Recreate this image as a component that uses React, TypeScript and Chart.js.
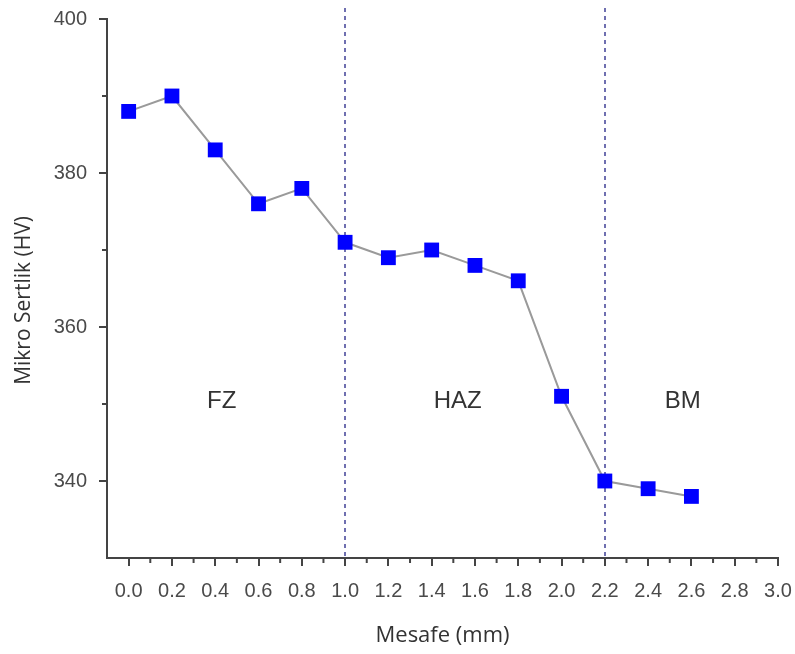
import { useEffect, useRef } from 'react';
import { Chart, registerables } from 'chart.js';
Chart.register(...registerables);

const distances = [0.0, 0.2, 0.4, 0.6, 0.8, 1.0, 1.2, 1.4, 1.6, 1.8, 2.0, 2.2, 2.4, 2.6];
const hardness = [388, 390, 383, 376, 378, 371, 369, 370, 368, 366, 351, 340, 339, 338];
const xTicks = [0.0, 0.2, 0.4, 0.6, 0.8, 1.0, 1.2, 1.4, 1.6, 1.8, 2.0, 2.2, 2.4, 2.6, 2.8, 3.0];
const xMinorTicks = [0.1, 0.3, 0.5, 0.7, 0.9, 1.1, 1.3, 1.5, 1.7, 1.9, 2.1, 2.3, 2.5, 2.7, 2.9];
const yTicks = [340, 360, 380, 400];
const yMinorTicks = [350, 370, 390];
const zoneBoundaries = [1.0, 2.2];
const zoneLabels = ['FZ', 'HAZ', 'BM'];
const zoneLabelX = [0.43, 1.52, 2.56];
const zoneLabelY = 350.3;
const xTitle = 'Mesafe (mm)';
const yTitle = 'Mikro Sertlik (HV)';

const FONT = "'Liberation Sans', Arial, sans-serif";
const TITLE_FONT = "'Open Sans', sans-serif";
const AXIS = '#444444';
const TICK_TEXT = '#4a4a4a';

const overlayPlugin = {
  id: 'overlay',
  beforeDatasetsDraw(chart: any) {
    const { ctx, chartArea, scales } = chart;
    const x = scales.x;
    const y = scales.y;
    ctx.save();
    ctx.strokeStyle = '#6f6fb0';
    ctx.lineWidth = 2;
    ctx.setLineDash([4, 4]);
    zoneBoundaries.forEach((b) => {
      const px = Math.round(x.getPixelForValue(b));
      ctx.beginPath();
      ctx.moveTo(px, chartArea.top - 11);
      ctx.lineTo(px, chartArea.bottom);
      ctx.stroke();
    });
    ctx.setLineDash([]);
    ctx.fillStyle = '#333333';
    ctx.font = `24px ${FONT}`;
    ctx.textAlign = 'center';
    ctx.textBaseline = 'middle';
    zoneLabels.forEach((t, i) => {
      ctx.fillText(t, x.getPixelForValue(zoneLabelX[i]), y.getPixelForValue(zoneLabelY));
    });
    ctx.restore();
  },
  afterDraw(chart: any) {
    const { ctx, chartArea, scales } = chart;
    const x = scales.x;
    const y = scales.y;
    ctx.save();
    ctx.strokeStyle = AXIS;
    ctx.lineWidth = 2;
    xMinorTicks.forEach((v) => {
      const px = x.getPixelForValue(v);
      ctx.beginPath();
      ctx.moveTo(px, chartArea.bottom);
      ctx.lineTo(px, chartArea.bottom + 5);
      ctx.stroke();
    });
    yMinorTicks.forEach((v) => {
      const py = y.getPixelForValue(v);
      ctx.beginPath();
      ctx.moveTo(chartArea.left, py);
      ctx.lineTo(chartArea.left - 5, py);
      ctx.stroke();
    });
    ctx.fillStyle = '#333333';
    ctx.textAlign = 'center';
    ctx.textBaseline = 'middle';
    ctx.font = `22px ${TITLE_FONT}`;
    ctx.fillText(xTitle, (chartArea.left + chartArea.right) / 2, 636);
    ctx.font = `21px ${TITLE_FONT}`;
    ctx.translate(24, (chartArea.top + chartArea.bottom) / 2 + 12);
    ctx.rotate(-Math.PI / 2);
    ctx.fillText(yTitle, 0, 0);
    ctx.restore();
  },
};

export default function App() {
  const ref = useRef<HTMLCanvasElement | null>(null);
  useEffect(() => {
    if (!ref.current) return;
    const chart = new Chart(ref.current, {
      type: 'line',
      data: {
        datasets: [
          {
            data: distances.map((d, i) => ({ x: d, y: hardness[i] })),
            borderColor: '#9a9a9a',
            borderWidth: 2,
            pointStyle: 'rect',
            pointRadius: 10.5,
            pointBackgroundColor: '#0000ff',
            pointBorderColor: '#0000ff',
            pointBorderWidth: 0,
            tension: 0,
          },
        ],
      },
      options: {
        animation: false,
        responsive: false,
        events: [],
        layout: { padding: { left: 0, top: 19, right: 17, bottom: 0 } },
        plugins: { legend: { display: false }, tooltip: { enabled: false } },
        scales: {
          x: {
            type: 'linear',
            min: -0.1,
            max: 3.0,
            afterBuildTicks: (s: any) => {
              s.ticks = xTicks.map((v) => ({ value: v }));
            },
            afterFit: (s: any) => {
              s.height = 96;
              s.paddingLeft = 0;
              s.paddingRight = 0;
            },
            grid: { drawOnChartArea: false, drawTicks: true, tickLength: 8, color: AXIS, lineWidth: 2 },
            border: { display: true, color: AXIS, width: 2 },
            ticks: {
              color: TICK_TEXT,
              font: { family: FONT, size: 20 },
              padding: 13,
              maxRotation: 0,
              autoSkip: false,
              callback: (v: any) => Number(v).toFixed(1),
            },
          },
          y: {
            type: 'linear',
            min: 330,
            max: 400,
            afterBuildTicks: (s: any) => {
              s.ticks = yTicks.map((v) => ({ value: v }));
            },
            afterFit: (s: any) => {
              s.width = 107;
              s.paddingTop = 0;
              s.paddingBottom = 0;
            },
            grid: { drawOnChartArea: false, drawTicks: true, tickLength: 8, color: AXIS, lineWidth: 2 },
            border: { display: true, color: AXIS, width: 2 },
            ticks: {
              color: TICK_TEXT,
              font: { family: FONT, size: 20 },
              padding: 12,
              autoSkip: false,
            },
          },
        },
      },
      plugins: [overlayPlugin],
    } as any);
    return () => chart.destroy();
  }, []);
  return (
    <div style={{ position: 'fixed', left: 0, top: 0, width: 795, height: 654, background: '#fff' }}>
      <canvas ref={ref} width={795} height={654} style={{ width: 795, height: 654 }} />
    </div>
  );
}
